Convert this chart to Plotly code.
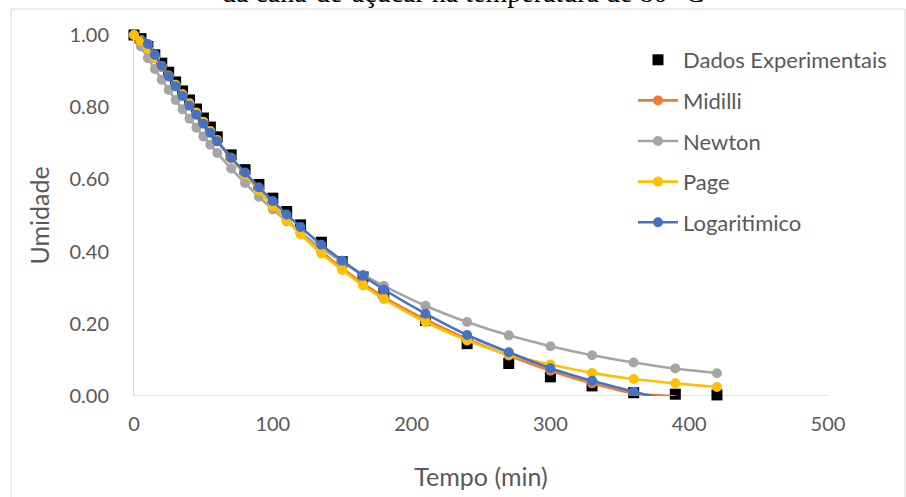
import plotly.graph_objects as go

tempo = [0, 5, 10, 15, 20, 25, 30, 35, 40, 45, 50, 55, 60, 70, 80, 90, 100, 110, 120,
         135, 150, 165, 180, 210, 240, 270, 300, 330, 360, 390, 420]

dados = [1.000, 0.990, 0.968, 0.945, 0.922, 0.897, 0.870, 0.845, 0.820, 0.795, 0.770, 0.745,
         0.718, 0.668, 0.627, 0.586, 0.548, 0.511, 0.474, 0.426, 0.372, 0.330, 0.285, 0.209,
         0.145, 0.090, 0.053, 0.028, 0.009, 0.005, 0.003]

midilli = [0.992, 0.980, 0.960, 0.936, 0.911, 0.885, 0.859, 0.833, 0.807, 0.781, 0.756, 0.731,
           0.706, 0.658, 0.613, 0.569, 0.528, 0.489, 0.452, 0.400, 0.354, 0.312, 0.274, 0.212,
           0.158, 0.112, 0.070, 0.035, 0.007, -0.002, -0.028]

newton = [1.000, 0.968, 0.936, 0.906, 0.876, 0.848, 0.820, 0.794, 0.768, 0.743, 0.719, 0.696,
          0.673, 0.630, 0.590, 0.552, 0.517, 0.484, 0.453, 0.410, 0.372, 0.336, 0.305, 0.250,
          0.205, 0.168, 0.138, 0.113, 0.093, 0.076, 0.063]

page = [1.000, 0.984, 0.962, 0.938, 0.914, 0.888, 0.862, 0.836, 0.811, 0.785, 0.760, 0.734,
        0.709, 0.660, 0.614, 0.569, 0.526, 0.486, 0.448, 0.395, 0.349, 0.306, 0.268, 0.205,
        0.154, 0.114, 0.087, 0.064, 0.047, 0.035, 0.025]

logaritimico = [1.040, 1.005, 0.975, 0.945, 0.915, 0.886, 0.858, 0.831, 0.804, 0.779, 0.754,
                0.729, 0.706, 0.660, 0.619, 0.578, 0.540, 0.503, 0.468, 0.419, 0.375, 0.333,
                0.295, 0.228, 0.169, 0.121, 0.077, 0.042, 0.012, -0.015, -0.038]

x_ticks = [0, 100, 200, 300, 400, 500]
y_ticks = [0.0, 0.2, 0.4, 0.6, 0.8, 1.0]

FONT = "Lato, Carlito, Calibri, sans-serif"
GRAY_TXT = "#595959"

fig = go.Figure()

fig.add_trace(go.Scatter(x=tempo, y=dados, mode="markers", name="Dados Experimentais",
                         marker=dict(symbol="square", size=11, color="#000000"),
                         cliponaxis=False, legendgroup="a"))

series = [("Midilli", midilli, "#ED7D31", True, "b"),
          ("Newton", newton, "#A5A5A5", False, "c"),
          ("Page", page, "#FFC000", False, "d"),
          ("Logaritimico", logaritimico, "#4472C4", True, "e")]
for name, vals, col, clip, grp in series:
    fig.add_trace(go.Scatter(x=tempo, y=vals, mode="lines+markers", name=name,
                             line=dict(color=col, width=2.6, shape="spline", smoothing=0.6),
                             marker=dict(symbol="circle", size=10, color=col),
                             cliponaxis=clip, legendgroup=grp))

W, H = 906, 497
L, R, T, B = 134, 78, 35, 101
pw, ph = W - L - R, H - T - B

def px(xp):
    return (xp - L) / pw

def py(yp):
    return (H - B - yp) / ph

fig.add_shape(type="rect", xref="paper", yref="paper",
              x0=px(11), x1=px(905), y0=py(520), y1=py(9),
              line=dict(color="#D9D9D9", width=1), fillcolor="rgba(0,0,0,0)", layer="below")

fig.add_annotation(text="da cana-de-açúcar na temperatura de 80 °C", xref="paper", yref="paper",
                   x=px(463), y=py(-8), xanchor="center", yanchor="middle", showarrow=False,
                   font=dict(family="Liberation Serif, Times New Roman, serif", size=28, color="#000000"))

fig.update_layout(
    width=W, height=H,
    margin=dict(l=L, r=R, t=T, b=B),
    paper_bgcolor="white", plot_bgcolor="white",
    font=dict(family=FONT, color=GRAY_TXT, size=20),
    legend=dict(x=px(633), y=py(39), xanchor="left", yanchor="top",
                font=dict(family=FONT, size=22, color=GRAY_TXT),
                bgcolor="rgba(0,0,0,0)", tracegroupgap=9, itemwidth=40),
    xaxis=dict(range=[0, 500], tickvals=x_ticks, ticktext=[str(v) for v in x_ticks],
               showgrid=False, zeroline=False, showline=False, ticks="", automargin=False,
               ticklabelstandoff=14, tickfont=dict(size=20),
               title=dict(text="Tempo (min)", font=dict(family=FONT, size=25, color=GRAY_TXT),
                          standoff=34)),
    yaxis=dict(range=[0, 1], tickvals=y_ticks, ticktext=[f"{v:.2f}" for v in y_ticks],
               showgrid=False, zeroline=False, showline=True, linecolor="#D9D9D9", linewidth=1,
               ticks="", ticklabelstandoff=20, tickfont=dict(size=20), automargin=False,
               title=dict(text="Umidade", font=dict(family=FONT, size=25, color=GRAY_TXT),
                          standoff=12)),
)

fig.add_shape(type="line", xref="paper", yref="y", x0=0, x1=1, y0=0, y1=0,
              line=dict(color="#D9D9D9", width=1.5), layer="below")

fig.write_html("out.html")
